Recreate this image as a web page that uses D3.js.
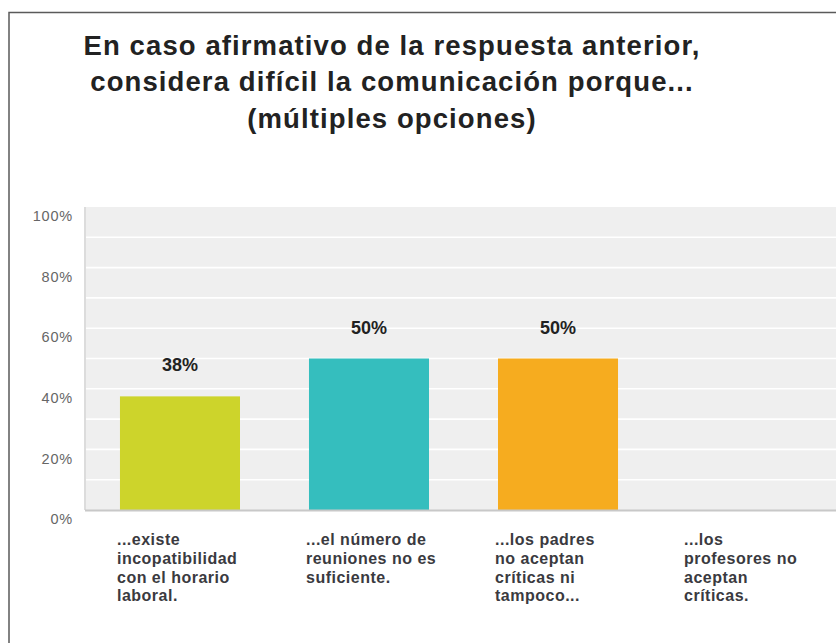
<!DOCTYPE html>
<html>
<head>
<meta charset="utf-8">
<script src="https://cdn.jsdelivr.net/npm/d3@7"></script>
<style>
  html, body { margin: 0; padding: 0; background: #ffffff; }
  svg { display: block; font-family: "Liberation Sans", Arial, sans-serif; }
</style>
</head>
<body>
<svg id="chart" width="836" height="643"></svg>
<script>
// ---- data ----
const titleLines = [
  "En caso afirmativo de la respuesta anterior,",
  "considera difícil la comunicación porque...",
  "(múltiples opciones)"
];
const categories = [
  "...existe incopatibilidad con el horario laboral.",
  "...el número de reuniones no es suficiente.",
  "...los padres no aceptan críticas ni tampoco...",
  "...los profesores no aceptan críticas."
];
const categoryLines = [
  ["...existe", "incopatibilidad", "con el horario", "laboral."],
  ["...el número de", "reuniones no es", "suficiente."],
  ["...los padres", "no aceptan", "críticas ni", "tampoco..."],
  ["...los", "profesores no", "aceptan", "críticas."]
];
const values = [0.375, 0.5, 0.5, 0];
const valueLabels = ["38%", "50%", "50%", ""];
const barColors = ["#cdd42b", "#35bebe", "#f6ac1f", "#9e9e9e"];
const yTicks = [0, 0.2, 0.4, 0.6, 0.8, 1.0];
const yTickLabels = ["0%", "20%", "40%", "60%", "80%", "100%"];
const gridValues = [0.1, 0.2, 0.3, 0.4, 0.5, 0.6, 0.7, 0.8, 0.9];

// ---- layout ----
const svg = d3.select("#chart");
const W = 836, H = 643;
const plot = { left: 85, right: 842, top: 207, bottom: 510 };

// frame
svg.append("path")
  .attr("d", `M9,${H} L9,12.5 L${W},12.5`)
  .attr("fill", "none").attr("stroke", "#5a5a5a").attr("stroke-width", 1.5);

// title
const title = svg.append("text")
  .attr("text-anchor", "middle")
  .attr("font-weight", "bold")
  .attr("font-size", 27.5)
  .attr("letter-spacing", 1.1)
  .attr("fill", "#222");
titleLines.forEach((t, i) => {
  title.append("tspan").attr("x", 392).attr("y", 54.5 + i * 36.8).text(t);
});

// scales
const x = d3.scaleBand().domain(categories)
  .range([plot.left, plot.right]).paddingInner(0.365).paddingOuter(0.185);
const y = d3.scaleLinear().domain([0, 1]).range([plot.bottom, plot.top]);

// plot background
svg.append("rect")
  .attr("x", plot.left).attr("y", plot.top)
  .attr("width", W - plot.left).attr("height", plot.bottom - plot.top)
  .attr("fill", "#efefef");
svg.append("rect")
  .attr("x", plot.left - 1).attr("y", plot.top)
  .attr("width", 2).attr("height", plot.bottom - plot.top)
  .attr("fill", "#dcdcdc");

// gridlines
svg.append("g").selectAll("line").data(gridValues).join("line")
  .attr("x1", plot.left + 1).attr("x2", W)
  .attr("y1", d => y(d)).attr("y2", d => y(d))
  .attr("stroke", "#ffffff").attr("stroke-width", 1.6);

// bars
svg.append("g").selectAll("rect").data(values).join("rect")
  .attr("x", (d, i) => x(categories[i]))
  .attr("width", x.bandwidth())
  .attr("y", d => y(d))
  .attr("height", d => y(0) - y(d))
  .attr("fill", (d, i) => barColors[i]);

// value labels
const labelData = values.map((v, i) => ({ v, i })).filter(d => d.v > 0);
svg.append("g").selectAll("text").data(labelData).join("text")
  .attr("x", d => x(categories[d.i]) + x.bandwidth() / 2)
  .attr("y", d => y(d.v) - 25)
  .attr("text-anchor", "middle")
  .attr("font-weight", "bold")
  .attr("font-size", 18)
  .attr("fill", "#222")
  .text(d => valueLabels[d.i]);

// y axis
const yAxis = svg.append("g")
  .attr("transform", `translate(${plot.left},0)`)
  .call(d3.axisLeft(y).tickValues(yTicks)
    .tickFormat((d, i) => yTickLabels[i]).tickSize(0).tickPadding(12));
yAxis.select(".domain").remove();
yAxis.selectAll("text")
  .attr("font-family", "Liberation Sans, Arial, sans-serif")
  .attr("font-size", 14.5)
  .attr("fill", "#666")
  .attr("dy", "0.95em")
  .attr("letter-spacing", 0.8);

// x axis
const xAxis = svg.append("g")
  .attr("transform", `translate(0,${plot.bottom})`)
  .call(d3.axisBottom(x).tickSize(0).tickFormat(""));
xAxis.select(".domain")
  .attr("d", `M${plot.left},0.5H${W}`)
  .attr("stroke", "#c8c8c8").attr("stroke-width", 2);
xAxis.selectAll(".tick").each(function(d, i) {
  const t = d3.select(this).select("text")
    .attr("text-anchor", "start")
    .attr("font-family", "Liberation Sans, Arial, sans-serif")
    .attr("font-weight", "bold")
    .attr("font-size", 16)
    .attr("letter-spacing", 0.5)
    .attr("fill", "#3a3a40")
    .attr("y", 0).attr("dy", null);
  categoryLines[i].forEach((line, j) => {
    t.append("tspan")
      .attr("x", -x.bandwidth() / 2 - 3)
      .attr("y", 35 + j * 18.8)
      .text(line);
  });
});
</script>
</body>
</html>
